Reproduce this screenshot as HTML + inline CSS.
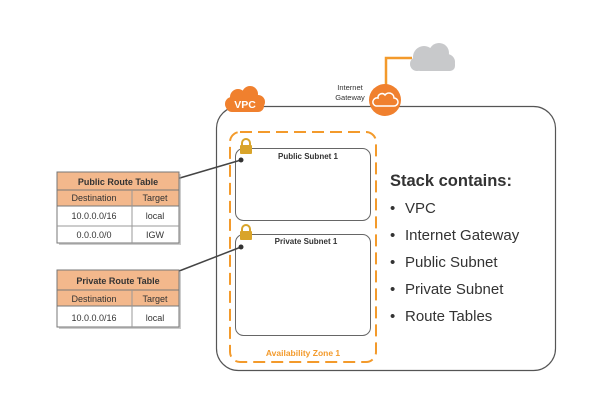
<!DOCTYPE html>
<html><head><meta charset="utf-8"><style>
html,body{margin:0;padding:0;background:#fff;}
svg{display:block;font-family:"Liberation Sans",sans-serif;}
</style></head><body>
<svg width="600" height="404" viewBox="0 0 600 404" xmlns="http://www.w3.org/2000/svg">
<rect x="216.5" y="106.5" width="339" height="264" rx="22" fill="#fff" stroke="#555" stroke-width="1.2"/>
<path d="M386 86 V58 H412" fill="none" stroke="#f39a2b" stroke-width="2.5"/>
<g fill="#c8c9cb">
<circle cx="424" cy="57" r="11"/><circle cx="439" cy="53" r="10"/><circle cx="447" cy="62" r="8"/><circle cx="417" cy="64" r="7"/>
<rect x="415" y="59" width="40" height="12" rx="5"/>
</g>
<circle cx="385" cy="100" r="16" fill="#f0802e"/>
<path d="M376 106 h18 a4 4 0 0 0 0-8 a5 5 0 0 0-9-3 a4 4 0 0 0-7 3 a4 4 0 0 0-2 8z" fill="none" stroke="#fff" stroke-width="1.5"/>
<text x="350" y="90" font-size="7.5" text-anchor="middle" fill="#333">Internet</text>
<text x="350" y="100" font-size="7.5" text-anchor="middle" fill="#333">Gateway</text>
<g fill="#f0802e">
<circle cx="238" cy="97" r="8"/><circle cx="250" cy="94" r="8"/><circle cx="258" cy="102" r="7"/><circle cx="232" cy="104" r="7"/>
<rect x="226" y="97" width="38" height="15" rx="6"/>
</g>
<text x="245" y="108" font-size="10.5" font-weight="bold" fill="#fff" text-anchor="middle">VPC</text>
<rect x="230" y="132" width="146" height="230" rx="10" fill="none" stroke="#f39a2b" stroke-width="2" stroke-dasharray="12,6"/>
<text x="303" y="356" font-size="8.5" font-weight="bold" fill="#f39a2b" text-anchor="middle">Availability Zone 1</text>
<rect x="235.5" y="148.5" width="135" height="72" rx="8" fill="#fff" stroke="#666" stroke-width="1"/>
<text x="308" y="159" font-size="8" font-weight="bold" fill="#333" text-anchor="middle">Public Subnet 1</text>
<rect x="235.5" y="234.5" width="135" height="101" rx="8" fill="#fff" stroke="#666" stroke-width="1"/>
<text x="306" y="244" font-size="8" font-weight="bold" fill="#333" text-anchor="middle">Private Subnet 1</text>
<g fill="#d9a42a">
<path d="M242 146 v-3 a4 4 0 0 1 8 0 v3" fill="none" stroke="#d9a42a" stroke-width="2"/>
<rect x="240" y="145" width="12" height="9" rx="1"/>
<path d="M242 232 v-3 a4 4 0 0 1 8 0 v3" fill="none" stroke="#d9a42a" stroke-width="2"/>
<rect x="240" y="231" width="12" height="9" rx="1"/>
</g>
<line x1="173" y1="180" x2="241" y2="160" stroke="#444" stroke-width="1.5"/>
<circle cx="173" cy="180" r="2.5" fill="#333"/><circle cx="241" cy="160" r="2.5" fill="#333"/>
<line x1="174" y1="273" x2="241" y2="247" stroke="#444" stroke-width="1.5"/>
<circle cx="174" cy="273" r="2.5" fill="#333"/><circle cx="241" cy="247" r="2.5" fill="#333"/>
<g font-size="9" fill="#333" text-anchor="middle">
<rect x="59" y="174" width="122" height="71" fill="#999" opacity="0.5"/>
<rect x="57" y="172" width="122" height="71" fill="#fff" stroke="#777"/>
<rect x="57" y="172" width="122" height="34" fill="#f3b88c" stroke="#777"/>
<line x1="57" y1="190" x2="179" y2="190" stroke="#777"/>
<line x1="57" y1="226" x2="179" y2="226" stroke="#999"/>
<line x1="132" y1="190" x2="132" y2="243" stroke="#999"/>
<text x="118" y="185" font-weight="bold">Public Route Table</text>
<text x="94" y="201">Destination</text><text x="155" y="201">Target</text>
<text x="94" y="219">10.0.0.0/16</text><text x="155" y="219">local</text>
<text x="94" y="238">0.0.0.0/0</text><text x="155" y="238">IGW</text>
<rect x="59" y="272" width="122" height="57" fill="#999" opacity="0.5"/>
<rect x="57" y="270" width="122" height="57" fill="#fff" stroke="#777"/>
<rect x="57" y="270" width="122" height="36" fill="#f3b88c" stroke="#777"/>
<line x1="57" y1="290" x2="179" y2="290" stroke="#777"/>
<line x1="132" y1="290" x2="132" y2="327" stroke="#999"/>
<text x="118" y="284" font-weight="bold">Private Route Table</text>
<text x="94" y="302">Destination</text><text x="155" y="302">Target</text>
<text x="94" y="321">10.0.0.0/16</text><text x="155" y="321">local</text>
</g>
<g fill="#333">
<text x="390" y="186" font-size="16.5" font-weight="bold">Stack contains:</text>
<g font-size="15">
<text x="390" y="213">•</text><text x="405" y="213">VPC</text>
<text x="390" y="240">•</text><text x="405" y="240">Internet Gateway</text>
<text x="390" y="267">•</text><text x="405" y="267">Public Subnet</text>
<text x="390" y="294">•</text><text x="405" y="294">Private Subnet</text>
<text x="390" y="321">•</text><text x="405" y="321">Route Tables</text>
</g>
</g>
</svg>
</body></html>
